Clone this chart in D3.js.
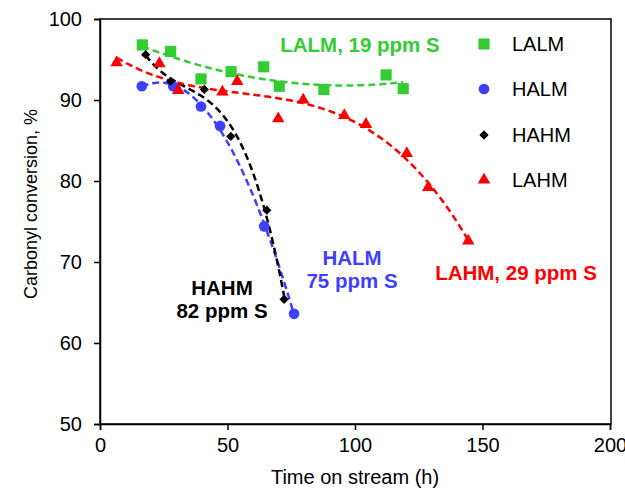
<!DOCTYPE html>
<html>
<head>
<meta charset="utf-8">
<script src="https://cdn.jsdelivr.net/npm/d3@7"></script>
<style>
  body { margin: 0; background: #fff; }
  text { font-family: Arial, "Liberation Sans", sans-serif; }
</style>
</head>
<body>
<svg width="625" height="489"></svg>
<script>
// Data: time on stream (h) and carbonyl conversion (%)
const lalmX = [16.6, 27.7, 39.6, 51.4, 64.2, 70.3, 87.8, 112.2, 118.9];
const lalmY = [96.8, 96.0, 92.6, 93.5, 94.1, 91.7, 91.3, 93.1, 91.4];

const halmX = [16.4, 28.7, 39.6, 47.1, 64.4, 76.1];
const halmY = [91.7, 91.7, 89.2, 86.8, 74.4, 63.6];

const hahmX = [17.9, 27.7, 40.9, 51.3, 65.4, 72.2];
const hahmY = [95.6, 92.3, 91.3, 85.5, 76.4, 65.4];

const lahmX = [6.5, 23.3, 30.7, 48.0, 53.8, 69.9, 79.7, 95.8, 104.3, 120.3, 128.7, 144.4];
const lahmY = [94.6, 94.5, 91.2, 91.0, 92.3, 87.7, 90.0, 88.1, 87.0, 83.4, 79.2, 72.6];

const xTicks = [0, 50, 100, 150, 200];
const yTicks = [50, 60, 70, 80, 90, 100];

const seriesNames = ["LALM", "HALM", "HAHM", "LAHM"];
const seriesColors = ["#33cc33", "#3f3fff", "#000000", "#ff0000"];
const trendOrder = [2, 3, 3, 3];
const labelLines = [["LALM, 19 ppm S"], ["HALM", "75 ppm S"], ["HAHM", "82 ppm S"], ["LAHM, 29 ppm S"]];

const series = [
  { x: lalmX, y: lalmY },
  { x: halmX, y: halmY },
  { x: hahmX, y: hahmY },
  { x: lahmX, y: lahmY }
];

// least squares polynomial trendline, like the spreadsheet does
function polyFit(xs, ys, order) {
  const n = order + 1;
  const A = [];
  for (let r = 0; r < n; r++) {
    A.push([]);
    for (let c = 0; c < n; c++) A[r].push(d3.sum(xs, x => Math.pow(x, r + c)));
    A[r].push(d3.sum(xs, (x, i) => Math.pow(x, r) * ys[i]));
  }
  for (let p = 0; p < n; p++) {
    let best = p;
    for (let r = p + 1; r < n; r++) if (Math.abs(A[r][p]) > Math.abs(A[best][p])) best = r;
    [A[p], A[best]] = [A[best], A[p]];
    for (let r = 0; r < n; r++) {
      if (r === p) continue;
      const f = A[r][p] / A[p][p];
      for (let c = p; c <= n; c++) A[r][c] -= f * A[p][c];
    }
  }
  const coef = A.map((row, i) => row[n] / row[i]);
  return x => coef.reduce((acc, c, i) => acc + c * Math.pow(x, i), 0);
}

const svg = d3.select("svg");
const plotLeft = 100, plotTop = 19, plotRight = 610, plotBottom = 424;

const x = d3.scaleLinear().domain([0, 200]).range([plotLeft, plotRight]);
const y = d3.scaleLinear().domain([50, 100]).range([plotBottom, plotTop]);

// frame
svg.append("rect")
    .attr("x", plotLeft).attr("y", plotTop)
    .attr("width", plotRight - plotLeft + 1).attr("height", plotBottom - plotTop)
    .attr("fill", "none").attr("stroke", "#000").attr("stroke-width", 1.5);

const xAxis = svg.append("g")
    .attr("transform", "translate(0," + plotBottom + ")")
    .call(d3.axisBottom(x).tickValues(xTicks).tickSize(6).tickPadding(8));
const yAxis = svg.append("g")
    .attr("transform", "translate(" + plotLeft + ",0)")
    .call(d3.axisLeft(y).tickValues(yTicks).tickSize(6).tickPadding(12));

[xAxis, yAxis].forEach(function (g) {
  g.select(".domain").attr("stroke-width", 1.5);
  g.selectAll(".tick line").attr("stroke-width", 1.5);
  g.selectAll(".tick text")
      .style("font-size", "20px")
      .attr("fill", "#000");
});

svg.append("text")
    .attr("x", (plotLeft + plotRight) / 2)
    .attr("y", 484)
    .attr("text-anchor", "middle")
    .style("font-size", "20px")
    .text("Time on stream (h)");

svg.append("text")
    .attr("transform", "translate(37,204)rotate(-90)")
    .attr("text-anchor", "middle")
    .style("font-size", "18px")
    .text("Carbonyl conversion, %");

// dashed trendlines
const line = d3.line().x(d => x(d[0])).y(d => y(d[1]));
series.forEach(function (s, i) {
  const f = polyFit(s.x, s.y, trendOrder[i]);
  const x0 = d3.min(s.x), x1 = d3.max(s.x);
  const pts = d3.range(0, 61).map(k => {
    const t = x0 + (x1 - x0) * k / 60;
    return [t, f(t)];
  });
  svg.append("path")
      .attr("d", line(pts))
      .attr("fill", "none")
      .attr("stroke", seriesColors[i])
      .attr("stroke-width", 2.5)
      .attr("stroke-dasharray", "7,4");
});

// markers
const symbols = [
  d3.symbol().type(d3.symbolSquare).size(125),
  d3.symbol().type(d3.symbolCircle).size(90),
  d3.symbol().type(d3.symbolDiamond2).size(55),
  d3.symbol().type(d3.symbolTriangle).size(68)
];
series.forEach(function (s, i) {
  svg.append("g").selectAll("path")
    .data(s.x.map((v, k) => [v, s.y[k]]))
    .enter().append("path")
      .attr("d", symbols[i])
      .attr("transform", d => "translate(" + x(d[0]) + "," + y(d[1]) + ")")
      .attr("fill", seriesColors[i]);
});

// legend
const legendRows = [44, 89, 135, 180];
seriesNames.forEach(function (name, i) {
  svg.append("path")
      .attr("d", symbols[i])
      .attr("transform", "translate(484," + legendRows[i] + ")")
      .attr("fill", seriesColors[i]);
  svg.append("text")
      .attr("x", 512)
      .attr("y", legendRows[i] + 7)
      .style("font-size", "20px")
      .text(name);
});

// labels on the curves
const labelPos = [[360, 52], [352, 265], [222, 295], [516, 280]];
labelLines.forEach(function (lines, i) {
  const t = svg.append("text")
      .attr("text-anchor", "middle")
      .attr("fill", seriesColors[i])
      .style("font-size", "20.5px")
      .style("font-weight", "bold");
  lines.forEach(function (l, k) {
    t.append("tspan")
        .attr("x", labelPos[i][0])
        .attr("y", labelPos[i][1] + k * 23)
        .text(l);
  });
});
</script>
</body>
</html>
